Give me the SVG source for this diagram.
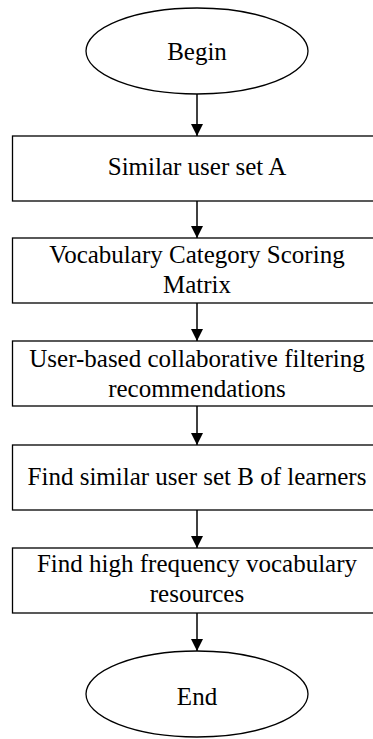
<svg xmlns="http://www.w3.org/2000/svg" width="373" height="739" viewBox="0 0 373 739">
<defs>
<marker id="ah" markerWidth="13" markerHeight="12" refX="12" refY="6" orient="auto" markerUnits="userSpaceOnUse">
<path d="M0,0 L12,6 L0,12 Z" fill="#000"/>
</marker>
<style>
.s{fill:#fff;stroke:#000;stroke-width:1.3}
.t{font-family:"Liberation Serif","Times New Roman",serif;font-size:25px;fill:#000;text-anchor:middle}
.c{stroke:#000;stroke-width:1.5;fill:none;marker-end:url(#ah)}
</style>
</defs>
<rect width="373" height="739" fill="#fff"/>
<g id="connectors">
<line class="c" x1="197" y1="94" x2="197" y2="136"/>
<line class="c" x1="197" y1="201" x2="197" y2="238"/>
<line class="c" x1="197" y1="303" x2="197" y2="341"/>
<line class="c" x1="197" y1="406" x2="197" y2="445"/>
<line class="c" x1="197" y1="510" x2="197" y2="548"/>
<line class="c" x1="197" y1="613" x2="197" y2="651"/>
</g>
<g id="begin">
<ellipse class="s" cx="197" cy="51" rx="111" ry="43"/>
<text class="t" x="197" y="60">Begin</text>
</g>
<g id="n1">
<rect class="s" x="12.5" y="136" width="364" height="65"/>
<text class="t" x="197" y="175">Similar user set A</text>
</g>
<g id="n2">
<rect class="s" x="12.5" y="238" width="364" height="65"/>
<text class="t" x="197" y="263">Vocabulary Category Scoring</text>
<text class="t" x="197" y="293">Matrix</text>
</g>
<g id="n3">
<rect class="s" x="12.5" y="341" width="364" height="65"/>
<text class="t" x="197" y="367">User-based collaborative filtering</text>
<text class="t" x="197" y="397">recommendations</text>
</g>
<g id="n4">
<rect class="s" x="12.5" y="445" width="364" height="65"/>
<text class="t" x="197" y="485">Find similar user set B of learners</text>
</g>
<g id="n5">
<rect class="s" x="12.5" y="548" width="364" height="65"/>
<text class="t" x="197" y="572">Find high frequency vocabulary</text>
<text class="t" x="197" y="602">resources</text>
</g>
<g id="end">
<ellipse class="s" cx="197" cy="694" rx="111" ry="43"/>
<text class="t" x="197" y="705">End</text>
</g>
</svg>
